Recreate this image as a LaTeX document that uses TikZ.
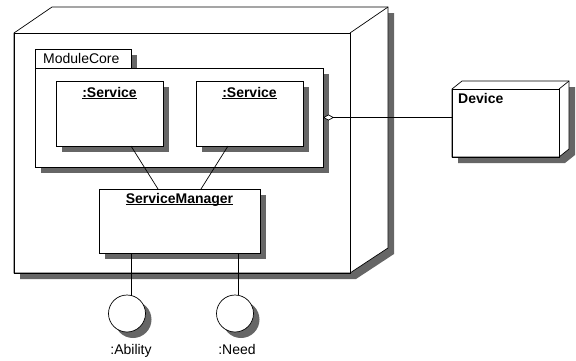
\documentclass[tikz,border=0pt]{standalone}
\usepackage{fontspec}
\setmainfont{Liberation Sans}
\usetikzlibrary{shadows,arrows.meta,calc}
\pgfdeclarelayer{back}
\pgfsetlayers{back,main}
\definecolor{shgray}{RGB}{102,102,102}
\newcommand\ulin[1]{\underline{\smash{#1}}}
\begin{document}
\begin{tikzpicture}[x=1pt,y=-1pt,
  box/.style={draw, fill=white, line width=0.7pt, inner sep=0pt, outer sep=0pt, anchor=north west},
  shad/.style={drop shadow={shadow xshift=6pt, shadow yshift=-6pt, fill=shgray, opacity=1}},
  txt/.style={inner sep=0pt, font=\fontsize{14pt}{16pt}\selectfont},
  btxt/.style={inner sep=0pt, font=\fontsize{14pt}{16pt}\selectfont\bfseries},
  wire/.style={line width=0.7pt}]
\useasboundingbox (0,0) rectangle (576,360);
% host node (3D)
\node[box, fill=none, minimum width=336pt, minimum height=240pt] (host) at (14,33) {};
\begin{pgfonlayer}{back}
\path[fill=white, draw, line width=0.7pt, shad] (host.south west) -- (host.north west) -- ++(38,-26)
  -- ($(host.north east)+(38,-26)$) -- ($(host.south east)+(38,-25)$) -- (host.south east) -- cycle;
\end{pgfonlayer}
\draw[wire] (host.north east) -- ++(38,-26);
% package
\node[box, shad, minimum width=96pt, minimum height=19pt] (tab) at (35,49) {};
\node[txt, anchor=base west] (tablbl) at ($(tab.north west)+(8,14)$) {ModuleCore};
\node[box, shad, minimum width=288pt, minimum height=99pt] (pkg) at (35,68) {};
% services
\node[box, shad, minimum width=107pt, minimum height=65pt] (s1) at (56,81) {};
\node[btxt, anchor=base] (s1l) at ($(s1.north)+(0,16)$) {\ulin{:Service}};
\node[box, shad, minimum width=107pt, minimum height=65pt] (s2) at (196,81) {};
\node[btxt, anchor=base] (s2l) at ($(s2.north)+(0,16)$) {\ulin{:Service}};
% service manager
\node[box, shad, minimum width=161pt, minimum height=64pt] (sm) at (99,189) {};
\node[btxt, anchor=base] (sml) at ($(sm.north)+(0,14)$) {\ulin{ServiceManager}};
% device (3D)
\node[box, fill=none, minimum width=107pt, minimum height=68pt] (dev) at (452,89) {};
\begin{pgfonlayer}{back}
\path[fill=white, draw, line width=0.7pt, shad] (dev.south west) -- (dev.north west) -- ++(10,-8)
  -- ($(dev.north east)+(10,-8)$) -- ($(dev.south east)+(10,-8)$) -- (dev.south east) -- cycle;
\end{pgfonlayer}
\draw[wire] (dev.north east) -- ++(10,-8);
\node[btxt, anchor=base west] (devl) at ($(dev.north west)+(6,14)$) {Device};
% interfaces
\node[circle, draw, fill=white, shad, minimum size=37pt, inner sep=0pt, outer sep=0pt, line width=0.7pt] (abl) at (127,313.5) {};
\node[circle, draw, fill=white, shad, minimum size=37pt, inner sep=0pt, outer sep=0pt, line width=0.7pt] (need) at (235,313.5) {};
\node[txt, anchor=base] (abll) at ($(abl.center)+(4,40.5)$) {:Ability};
\node[txt, anchor=base] (needl) at ($(need.center)+(2,40.5)$) {:Need};
% connectors
\draw[wire] ($(s1.south)+(21.5,0)$) -- ($(sm.north)+(-21.5,0)$);
\draw[wire] ($(s2.south)+(-21.5,0)$) -- ($(sm.north)+(21.5,0)$);
\draw[wire, {Diamond[fill=white,length=11pt,width=6pt]}-] (pkg.east) -- (pkg.east -| dev.west);
\coordinate (abtop) at ($(abl.center)+(4.7,-17.9)$);
\draw[wire] (abtop |- sm.south) -- (abtop);
\coordinate (ndtop) at ($(need.center)+(3.3,-18.2)$);
\draw[wire] (ndtop |- sm.south) -- (ndtop);
\end{tikzpicture}
\end{document}
